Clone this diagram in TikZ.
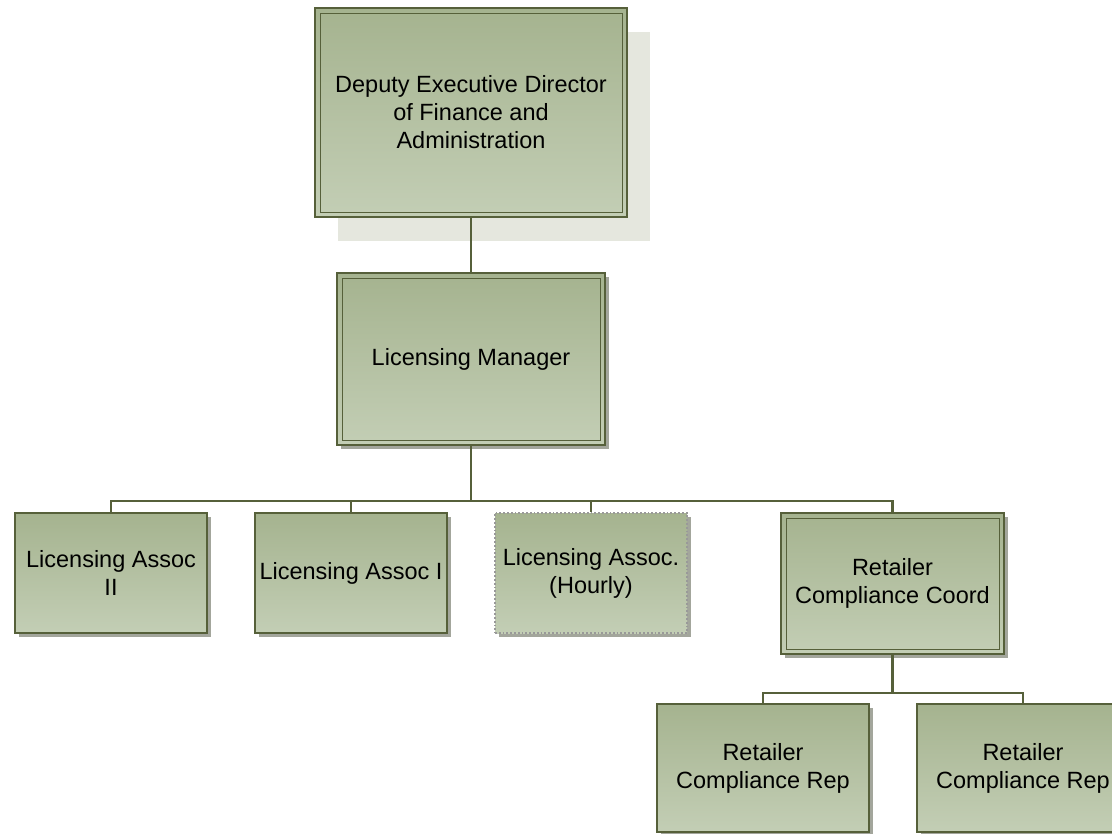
\documentclass[tikz,border=0pt]{standalone}
\usepackage{fontspec}
\setmainfont{Liberation Sans}
\usetikzlibrary{shadows}
\definecolor{bord}{HTML}{56603A}
\definecolor{boxtop}{HTML}{A5B38F}
\definecolor{boxbot}{HTML}{C3CEB5}
\definecolor{shad}{HTML}{A3A69C}
\definecolor{bigshad}{HTML}{E5E7DE}
\tikzset{
  orgbox/.style={draw=bord, line width=1.8pt, top color=boxtop, bottom color=boxbot,
    align=center, font=\fontsize{23.5}{28}\selectfont, text=black, inner sep=2pt},
  smallshadow/.style={drop shadow={shadow xshift=4pt, shadow yshift=-4pt, fill=shad, opacity=1}},
  bigshadow/.style={drop shadow={shadow xshift=23pt, shadow yshift=-24pt, fill=bigshad, opacity=1}},
  dbl/.style={path picture={\draw[bord, line width=0.9pt]
      ([shift={(5pt,-5pt)}]path picture bounding box.north west) rectangle
      ([shift={(-5pt,5pt)}]path picture bounding box.south east);}},
  dottedbox/.style={draw=gray!80, dotted, line width=1.2pt},
  conn/.style={draw=bord, line width=2.8pt}
}
\begin{document}
\begin{tikzpicture}[x=1pt,y=-1pt]
\useasboundingbox (0,0) rectangle (1112,834);
\clip (0,0) rectangle (1112,834);

\node[orgbox, bigshadow, dbl, minimum width=312pt, minimum height=209pt] (dir) at (471,112.5)
  {Deputy Executive Director\\of Finance and\\Administration};
\node[orgbox, smallshadow, dbl, minimum width=268pt, minimum height=172pt] (lm) at (471,359)
  {Licensing Manager};
\node[orgbox, smallshadow, minimum width=192pt, minimum height=120pt] (la2) at (111,573)
  {Licensing Assoc\\II};
\node[orgbox, smallshadow, minimum width=192pt, minimum height=120pt] (la1) at (351,573)
  {Licensing Assoc I};
\node[orgbox, smallshadow, dottedbox, minimum width=192pt, minimum height=120pt] (hr) at (591,573)
  {Licensing Assoc.\\(Hourly)};
\node[orgbox, smallshadow, dbl, minimum width=223pt, minimum height=141pt] (coord) at (892.5,583.5)
  {Retailer\\Compliance Coord};
\node[orgbox, smallshadow, minimum width=212pt, minimum height=128pt] (rep1) at (763,768)
  {Retailer\\Compliance Rep};
\node[orgbox, smallshadow, minimum width=212pt, minimum height=128pt] (rep2) at (1023,768)
  {Retailer\\Compliance Rep};

\coordinate (bus) at (471,501);
\coordinate (bus2) at (892.5,693);

\draw[conn] (dir.south) -- (lm.north);
\draw[conn] (lm.south) -- (bus);
\draw[conn] (la2.north) |- (bus);
\draw[conn] (la1.north) |- (bus);
\draw[conn] (hr.north) |- (bus);
\draw[conn] (coord.north) |- (bus);
\draw[conn] (coord.south) -- (bus2);
\draw[conn] (rep1.north) |- (bus2);
\draw[conn] (rep2.north) |- (bus2);
\end{tikzpicture}
\end{document}
